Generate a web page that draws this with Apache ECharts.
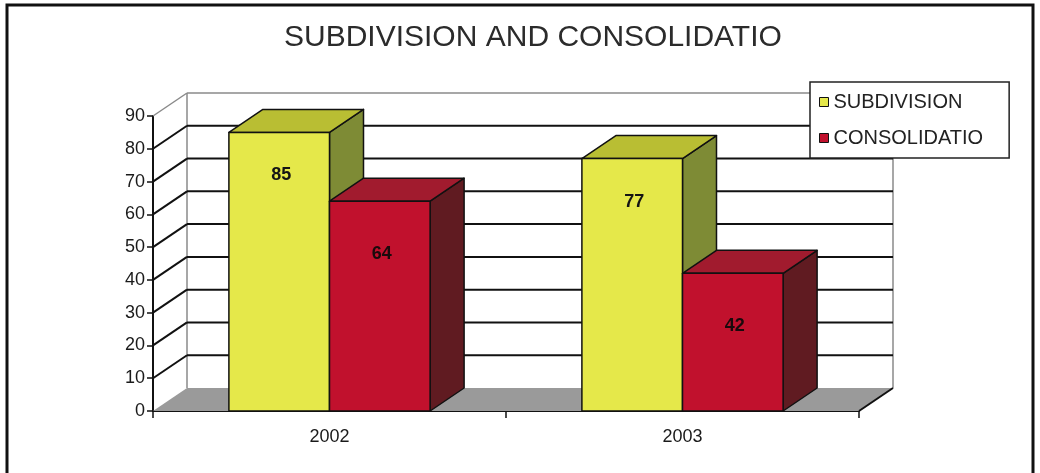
<!DOCTYPE html>
<html><head><meta charset="utf-8">
<script src="https://cdn.jsdelivr.net/npm/echarts@6/dist/echarts.min.js"></script>
<style>html,body{margin:0;padding:0;background:#fff}#c{width:1040px;height:473px}</style>
</head><body><div id="c"></div>
<script>
var titleText = 'SUBDIVISION AND CONSOLIDATION';
var categories = ['2002', '2003'];
var seriesNames = ['SUBDIVISION', 'CONSOLIDATION'];
var subdivision = [85, 77];
var consolidation = [64, 42];
var yTicks = [0, 10, 20, 30, 40, 50, 60, 70, 80, 90];

var DX = 34, DY = -23;
var FONT = '"Liberation Sans", Arial, sans-serif';
var faces = [
  {front: '#E5E84A', top: '#B9BE33', side: '#7E8B35', label: '#141414', weight: 'bold', labelOffset: 43},
  {front: '#C1112D', top: '#A11B2E', side: '#601B21', label: '#1a0a0c', weight: 'bold', labelOffset: 53}
];

function renderWall(params, api) {
  var cs = params.coordSys;
  var v = api.value(1);
  var y = api.coord([0, v])[1];
  var xl = cs.x, xr = cs.x + cs.width;
  var maxV = yTicks[yTicks.length - 1];
  var children = [];
  if (v === 0) {
    var topY = api.coord([0, maxV])[1];
    children.push({type: 'polygon', shape: {points: [[xl, y], [xr, y], [xr + DX, y + DY], [xl + DX, y + DY]]},
      style: {fill: '#9a9a9a'}});
    children.push({type: 'line', shape: {x1: xl + DX, y1: y + DY, x2: xl + DX, y2: topY + DY},
      style: {stroke: '#8a8a8a', lineWidth: 1.5}});
    children.push({type: 'line', shape: {x1: xr + DX, y1: y + DY, x2: xr + DX, y2: topY + DY},
      style: {stroke: '#8a8a8a', lineWidth: 1.5}});
    children.push({type: 'line', shape: {x1: xr, y1: y, x2: xr + DX, y2: y + DY},
      style: {stroke: '#111', lineWidth: 2}});
  } else {
    var col = (v === maxV) ? '#8a8a8a' : '#111';
    var lw = (v === maxV) ? 1.5 : 2;
    children.push({type: 'line', shape: {x1: xl, y1: y, x2: xl + DX, y2: y + DY}, style: {stroke: col, lineWidth: lw}});
    children.push({type: 'line', shape: {x1: xl + DX, y1: y + DY, x2: xr + DX, y2: y + DY}, style: {stroke: col, lineWidth: lw}});
  }
  return {type: 'group', children: children};
}

function makeBar(idx) {
  var f = faces[idx];
  return function (params, api) {
    var cat = api.value(0), v = api.value(1);
    var base = api.coord([cat, 0]), top = api.coord([cat, v]);
    var band = api.size([1, 0])[0];
    var w = band * 0.285;
    var x0 = base[0] + (idx === 0 ? -w : 0);
    var x1 = x0 + w;
    var y0 = base[1], y1 = top[1];
    var stroke = {stroke: '#111', lineWidth: 1.5, lineJoin: 'round'};
    return {
      type: 'group',
      children: [
        {type: 'polygon', shape: {points: [[x1, y1], [x1 + DX, y1 + DY], [x1 + DX, y0 + DY], [x1, y0]]},
          style: Object.assign({fill: f.side}, stroke)},
        {type: 'polygon', shape: {points: [[x0, y1], [x1, y1], [x1 + DX, y1 + DY], [x0 + DX, y1 + DY]]},
          style: Object.assign({fill: f.top}, stroke)},
        {type: 'rect', shape: {x: x0, y: y1, width: w, height: y0 - y1},
          style: Object.assign({fill: f.front}, stroke)},
        {type: 'text', x: x0 + w / 2 + 2, y: y1 + f.labelOffset,
          style: {text: String(v), fill: f.label, fontSize: 18, fontWeight: f.weight, fontFamily: FONT,
            align: 'center', verticalAlign: 'middle'}}
      ]
    };
  };
}

var chart = echarts.init(document.getElementById('c'), null, {renderer: 'canvas'});
chart.setOption({
  animation: false,
  backgroundColor: '#fff',
  color: [faces[0].front, faces[1].front],
  title: {
    text: titleText, left: 279, top: 18,
    textStyle: {fontSize: 30, fontWeight: 'normal', color: '#2b2b2b', fontFamily: FONT,
      width: 508, overflow: 'truncate', ellipsis: ''}
  },
  legend: {
    data: seriesNames, orient: 'vertical', left: 810, top: 82,
    padding: [10, 26, 10, 9], itemGap: 16, itemWidth: 9, itemHeight: 9, icon: 'rect',
    borderColor: '#222', borderWidth: 1.5, backgroundColor: '#fff',
    itemStyle: {borderColor: '#111', borderWidth: 1},
    textStyle: {fontSize: 20, color: '#222', fontFamily: FONT, width: 158, overflow: 'truncate', ellipsis: ''}
  },
  grid: {left: 153, right: 181, top: 116, bottom: 62, containLabel: false},
  xAxis: {
    type: 'category', data: categories, boundaryGap: true,
    axisLine: {show: true, lineStyle: {color: '#111', width: 2}},
    axisTick: {show: true, length: 7, lineStyle: {color: '#111', width: 1.5}},
    axisLabel: {margin: 17, fontSize: 18, color: '#1a1a1a', fontFamily: FONT},
    splitLine: {show: false}
  },
  yAxis: {
    type: 'value', min: 0, max: 90, interval: 10,
    axisLine: {show: true, lineStyle: {color: '#111', width: 2}},
    axisTick: {show: true, length: 6, lineStyle: {color: '#111', width: 1.5}},
    axisLabel: {margin: 8, fontSize: 18, color: '#1a1a1a', fontFamily: FONT},
    splitLine: {show: false}
  },
  graphic: [{type: 'rect', silent: true, z: 100,
    shape: {x: 7, y: 5, width: 1026, height: 490},
    style: {fill: 'none', stroke: '#111', lineWidth: 3}}],
  series: [
    {type: 'custom', name: '_wall', z: 1, clip: false, silent: true, renderItem: renderWall,
      data: yTicks.map(function (v) { return [0, v]; })},
    {type: 'custom', name: seriesNames[0], z: 3, clip: false, renderItem: makeBar(0),
      itemStyle: {color: faces[0].front},
      data: categories.map(function (c, i) { return [i, subdivision[i]]; })},
    {type: 'custom', name: seriesNames[1], z: 3, clip: false, renderItem: makeBar(1),
      itemStyle: {color: faces[1].front},
      data: categories.map(function (c, i) { return [i, consolidation[i]]; })}
  ]
});
</script></body></html>
